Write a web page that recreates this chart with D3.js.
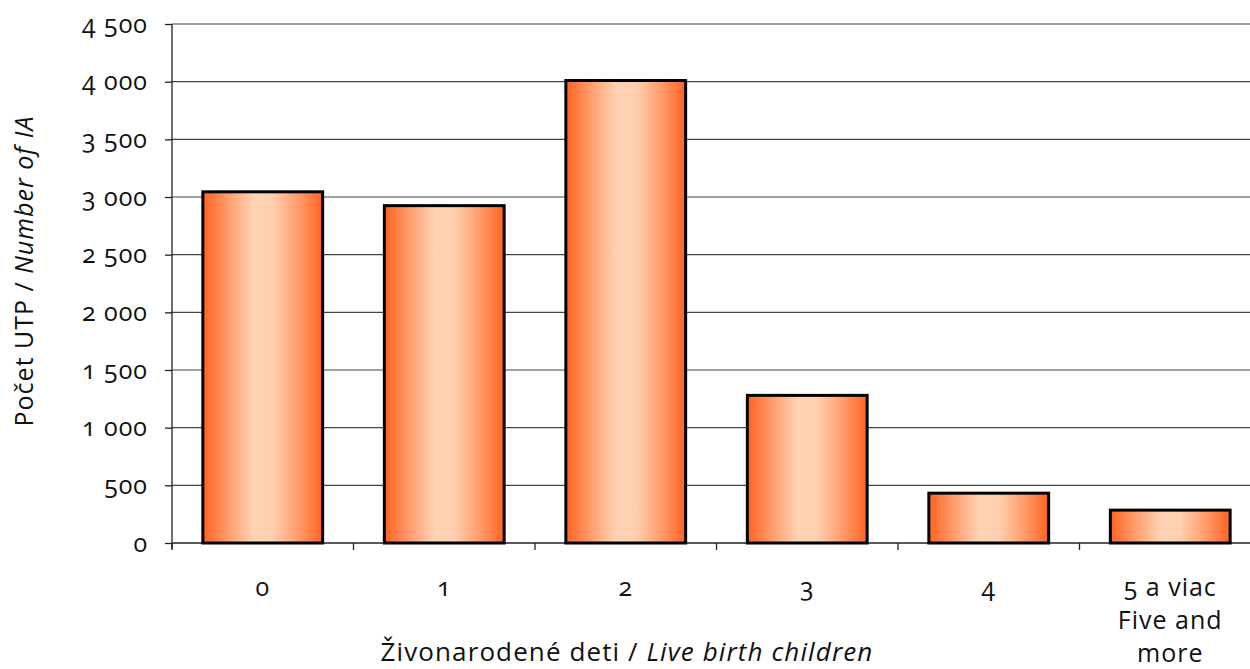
<!DOCTYPE html>
<html><head><meta charset="utf-8">
<script src="https://cdn.jsdelivr.net/npm/d3@7/dist/d3.min.js"></script>
<style>
body{margin:0;background:#fff;}
svg text{font-family:"Open Sans","Lato",sans-serif;fill:#111;}
.num{font-variant-numeric:oldstyle-nums;font-feature-settings:"onum" 1;}
</style></head>
<body><svg id="c" width="1250" height="669"></svg>
<script>
const categories = ["0","1","2","3","4","5 a viac|Five and|more"];
const values = [3045, 2925, 4010, 1280, 432, 285];
const yTicks = [0,500,1000,1500,2000,2500,3000,3500,4000,4500];

const svg = d3.select("#c");
const m = {left:172, top:24, bottom:543, right:1261};
const x = d3.scaleBand().domain(categories).range([m.left, m.right]).paddingInner(0.34).paddingOuter(0.17);
const xb = d3.scaleBand().domain(categories).range([m.left, m.right]);
const y = d3.scaleLinear().domain([0,4500]).range([m.bottom, m.top]);

const defs = svg.append("defs");
const g = defs.append("linearGradient").attr("id","gr").attr("x1","0").attr("x2","1").attr("y1","0").attr("y2","0");
[[0,"#ff6420"],[0.2,"#ff9a6a"],[0.42,"#ffd3b5"],[0.58,"#ffd0b0"],[0.8,"#ff9b6b"],[1,"#ff6420"]].forEach(s=>g.append("stop").attr("offset",s[0]).attr("stop-color",s[1]));

const fmt = v => d3.format(",")(v).replace(/,/g," ");

// gridlines
svg.append("g").selectAll("line").data(yTicks.filter(t=>t>0)).join("line")
  .attr("x1",m.left).attr("x2",1250).attr("y1",d=>y(d)).attr("y2",d=>y(d))
  .attr("stroke","#444").attr("stroke-width",1.2);

// y axis
const ya = svg.append("g").attr("transform",`translate(${m.left},0)`)
  .call(d3.axisLeft(y).tickValues(yTicks).tickSize(7).tickPadding(17).tickFormat(fmt));
ya.select(".domain").attr("stroke","#222").attr("stroke-width",1.3).attr("d",`M0,${m.top}V${m.bottom+6}`);
ya.selectAll(".tick line").attr("stroke","#222").attr("stroke-width",1.3);
ya.selectAll(".tick text").attr("class","num").style("font-size","25px").style("letter-spacing","1px").attr("fill","#111");

// x axis
svg.append("line").attr("x1",m.left).attr("x2",1250).attr("y1",m.bottom).attr("y2",m.bottom).attr("stroke","#222").attr("stroke-width",1.3);
svg.append("g").selectAll("line").data(categories).join("line")
  .attr("x1",d=>xb(d)).attr("x2",d=>xb(d)).attr("y1",m.bottom).attr("y2",m.bottom+7)
  .attr("stroke","#222").attr("stroke-width",1.3);

// bars
svg.append("g").selectAll("rect").data(values).join("rect")
  .attr("x",(d,i)=>x(categories[i])).attr("width",x.bandwidth())
  .attr("y",d=>y(d)).attr("height",d=>m.bottom-y(d))
  .attr("fill","url(#gr)").attr("stroke","#000").attr("stroke-width",3);

// category labels
const cl = svg.append("g").selectAll("text").data(categories).join("text")
  .attr("class","num").attr("text-anchor","middle").style("font-size","25px").style("letter-spacing","1px")
  .attr("x",d=>xb(d)+xb.bandwidth()/2).attr("y",596);
cl.each(function(d){
  const parts = d.split("|");
  const t = d3.select(this);
  parts.forEach((p,i)=>t.append("tspan").attr("x",t.attr("x")).attr("dy",i?33:0).text(p));
});

// axis titles
const xt = svg.append("text").attr("x",627).attr("y",661).attr("text-anchor","middle").style("font-size","26px").style("letter-spacing","1.1px");
xt.append("tspan").text("Živonarodené deti / ");
xt.append("tspan").style("font-style","italic").text("Live birth children");

const yt = svg.append("text").attr("transform","translate(33,271) rotate(-90)").attr("text-anchor","middle").style("font-size","25px").style("letter-spacing","1px");
yt.append("tspan").text("Počet UTP / ");
yt.append("tspan").style("font-style","italic").text("Number of IA");
</script></body></html>
